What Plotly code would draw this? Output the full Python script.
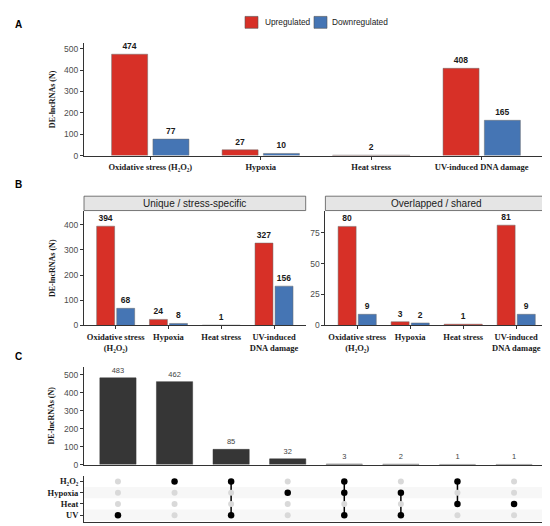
import plotly.graph_objects as go

W, H = 550, 526

# ---- data ----
stress_a = ["Oxidative stress (H₂O₂)", "Hypoxia", "Heat stress", "UV-induced DNA damage"]
up_a = [474, 27, 2, 408]
down_a = [77, 10, None, 165]

stress_b = ["Oxidative stress<br>(H₂O₂)", "Hypoxia", "Heat stress", "UV-induced<br>DNA damage"]
up_unique = [394, 24, 1, 327]
down_unique = [68, 8, None, 156]
up_shared = [80, 3, 1, 81]
down_shared = [9, 2, None, 9]

set_keys = ["UV", "Heat", "Hypoxia", "H2O2"]          # bottom -> top
set_labels = ["UV", "Heat", "Hypoxia", "H₂O₂"]
intersect_counts = [483, 462, 85, 32, 3, 2, 1, 1]
intersect_sets = [["UV"], ["H2O2"], ["H2O2", "UV"], ["Hypoxia"],
                  ["H2O2", "Hypoxia", "UV"], ["Hypoxia", "UV"], ["H2O2", "Heat"], ["Heat"]]

RED, BLUE = "#D73027", "#4575B4"
SANS, SERIF = "Liberation Sans", "Liberation Serif"


def xd(a, b):
    return [a / W, b / W]


def yd(top, bottom):
    return [1 - bottom / H, 1 - top / H]


def px(x, y):
    return x / W, 1 - y / H


fig = go.Figure()

label_font = dict(family=SANS, size=8.5, color="#1a1a1a", weight="bold")


def add_pair(up, down, xa, ya, half, bw):
    # half: half-width of the dodged group, bw: width of one bar
    n = len(up)
    up_w = [bw if d is not None else 2 * half for d in down]
    fig.add_trace(go.Bar(
        x=list(range(n)), y=up, offset=-half, width=up_w,
        marker=dict(color=RED, line=dict(color="#6b6b6b", width=0.5)),
        text=[str(v) for v in up], textposition="outside", constraintext="none",
        textfont=label_font, cliponaxis=False, xaxis=xa, yaxis=ya, showlegend=False))
    dx = [i for i, v in enumerate(down) if v is not None]
    dv = [v for v in down if v is not None]
    fig.add_trace(go.Bar(
        x=dx, y=dv, offset=half - bw, width=bw,
        marker=dict(color=BLUE, line=dict(color="#6b6b6b", width=0.5)),
        text=[str(v) for v in dv], textposition="outside", constraintext="none",
        textfont=label_font, cliponaxis=False, xaxis=xa, yaxis=ya, showlegend=False))


add_pair(up_a, down_a, "x", "y", 0.35, 0.326)
add_pair(up_unique, down_unique, "x2", "y2", 0.36, 0.34)
add_pair(up_shared, down_shared, "x3", "y3", 0.36, 0.34)

# C: intersection bars
ncol = len(intersect_counts)
fig.add_trace(go.Bar(
    x=list(range(ncol)), y=intersect_counts, width=0.64,
    marker=dict(color="#363636", line=dict(color="#363636", width=0.5)),
    text=[str(v) for v in intersect_counts], textposition="outside", constraintext="none",
    textfont=dict(family=SANS, size=7.5, color="#444444"),
    cliponaxis=False, xaxis="x4", yaxis="y4", showlegend=False))

# C: membership matrix
gx, gy, bx, by, lx, ly = [], [], [], [], [], []
for i, members in enumerate(intersect_sets):
    rows = [set_keys.index(m) for m in members]
    for r in range(len(set_keys)):
        if r in rows:
            bx.append(i); by.append(r)
        else:
            gx.append(i); gy.append(r)
    if len(rows) > 1:
        lx += [i, i, None]
        ly += [min(rows), max(rows), None]

fig.add_trace(go.Scatter(x=lx, y=ly, mode="lines", line=dict(color="black", width=1.5),
                         xaxis="x5", yaxis="y5", showlegend=False))
fig.add_trace(go.Scatter(x=gx, y=gy, mode="markers", marker=dict(size=6, color="#d9d9d9"),
                         xaxis="x5", yaxis="y5", showlegend=False, cliponaxis=False))
fig.add_trace(go.Scatter(x=bx, y=by, mode="markers", marker=dict(size=6.5, color="black"),
                         xaxis="x5", yaxis="y5", showlegend=False, cliponaxis=False))

line_style = dict(showline=True, linecolor="#333333", linewidth=1, showgrid=False, zeroline=False,
                  ticks="outside", ticklen=3, tickcolor="#333333", tickwidth=0.8)
ytick_font = dict(family=SANS, size=8.5, color="#4d4d4d")
xtick_font = dict(family=SERIF, size=8.5, color="#1a1a1a", weight="bold")

fig.update_layout(
    width=W, height=H, margin=dict(l=0, r=0, t=0, b=0),
    paper_bgcolor="white", plot_bgcolor="white", barmode="overlay",
    xaxis=dict(domain=xd(76, 540), range=[-0.6, 3.6], tickvals=list(range(4)), ticktext=stress_a,
               tickfont=xtick_font, anchor="y", **line_style),
    yaxis=dict(domain=yd(35, 149), range=[0, 528], tickvals=[0, 100, 200, 300, 400, 500],
               tickfont=ytick_font, anchor="x", **line_style),
    xaxis2=dict(domain=xd(76, 297.7), range=[-0.6, 3.6], tickvals=list(range(4)), ticktext=stress_b,
                tickfont=xtick_font, anchor="y2", **line_style),
    yaxis2=dict(domain=yd(205, 320.5), range=[0, 454], tickvals=[0, 100, 200, 300, 400],
                tickfont=ytick_font, anchor="x2", **line_style),
    xaxis3=dict(domain=xd(317.4, 540), range=[-0.6, 3.6], tickvals=list(range(4)), ticktext=stress_b,
                tickfont=xtick_font, anchor="y3", **line_style),
    yaxis3=dict(domain=yd(205, 320.5), range=[0, 92.4], tickvals=[0, 25, 50, 75],
                tickfont=ytick_font, anchor="x3", **line_style),
    xaxis4=dict(domain=xd(76, 540), range=[-0.6, ncol - 0.4], tickvals=[],
                anchor="y4", **{**line_style, "ticks": ""}),
    yaxis4=dict(domain=yd(362, 461), range=[0, 546], tickvals=[0, 100, 200, 300, 400, 500],
                tickfont=ytick_font, anchor="x4", **line_style),
    xaxis5=dict(domain=xd(76, 540), range=[-0.6, ncol - 0.4], tickvals=[],
                anchor="y5", **{**line_style, "ticks": ""}),
    yaxis5=dict(domain=yd(472.3, 518.7), range=[-0.58, 3.5], tickvals=list(range(4)), ticktext=set_labels,
                tickfont=xtick_font, anchor="x5", **line_style),
)

shapes = []
# matrix row shading
for r in (0, 2):
    shapes.append(dict(type="rect", xref="x5 domain", yref="y5", x0=0, x1=1, y0=r - 0.5, y1=r + 0.5,
                       fillcolor="#f7f7f7", line=dict(width=0), layer="below"))
# facet strips
for a, b in ((76, 297.7), (317.4, 540)):
    x0, y0 = px(a, 190)
    x1, y1 = px(b, 204.5)
    shapes.append(dict(type="rect", xref="paper", yref="paper", x0=x0, x1=x1, y0=y1, y1=y0,
                       fillcolor="#e5e5e5", line=dict(color="#555555", width=0.8)))
# legend keys
for a, col in ((237, RED), (306, BLUE)):
    x0, y0 = px(a, 8.5)
    x1, y1 = px(a + 13, 20.5)
    shapes.append(dict(type="rect", xref="paper", yref="paper", x0=x0, x1=x1, y0=y1, y1=y0,
                       fillcolor=col, line=dict(color="#555555", width=0.6)))
fig.update_layout(shapes=shapes)

ann = []


def note(x, y, text, **kw):
    xx, yy = px(x, y)
    d = dict(x=xx, y=yy, xref="paper", yref="paper", text=text, showarrow=False,
             xanchor="center", yanchor="middle")
    d.update(kw)
    ann.append(d)


title_font = dict(family=SERIF, size=8, color="#1a1a1a", weight="bold")
for yc in (92, 262.5, 411.5):
    note(44, yc, "DE-lncRNAs (N)", textangle=-90, font=title_font)
for x, y, t in ((10, 17, "A"), (10, 178, "B"), (10, 352, "C")):
    note(x, y, t, font=dict(family=SANS, size=10, color="black", weight="bold"))
note(186.9, 197.3, "Unique / stress-specific", font=dict(family=SANS, size=10, color="#1a1a1a"))
note(428.7, 197.3, "Overlapped / shared", font=dict(family=SANS, size=10, color="#1a1a1a"))
note(254.5, 14.5, "Upregulated", xanchor="left", font=dict(family=SANS, size=8.3, color="#1a1a1a"))
note(322.5, 14.5, "Downregulated", xanchor="left", font=dict(family=SANS, size=8.3, color="#1a1a1a"))
fig.update_layout(annotations=ann)

fig.write_html("out.html")
